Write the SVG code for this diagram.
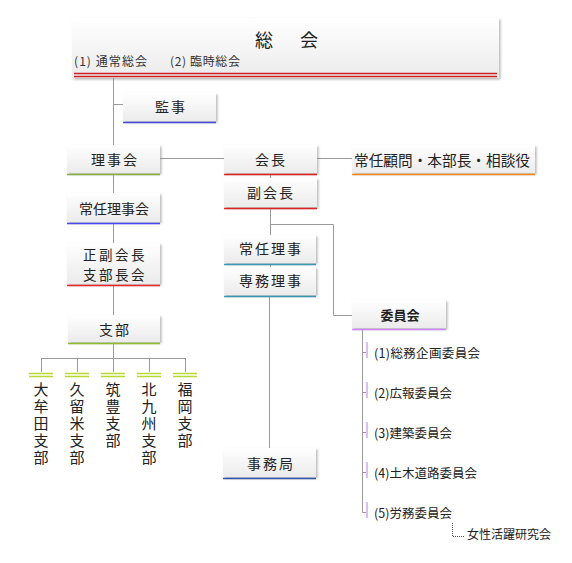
<svg xmlns="http://www.w3.org/2000/svg" width="572" height="563" viewBox="0 0 572 563">
<defs>
<linearGradient id="g" x1="0" y1="0" x2="0" y2="1">
<stop offset="0" stop-color="#ffffff"/>
<stop offset="1" stop-color="#ebebeb"/>
</linearGradient>
<filter id="sh" x="-5%" y="-10%" width="115%" height="130%">
<feDropShadow dx="1.5" dy="1.5" stdDeviation="0.8" flood-color="#888" flood-opacity="0.6"/>
</filter>
</defs>
<style>
.box{fill:url(#g);filter:url(#sh)}
.lbl{font-family:"Noto Sans CJK JP","Noto Sans",sans-serif;font-size:14px;fill:#222;text-anchor:middle;dominant-baseline:central;letter-spacing:2px}
.sm{font-family:"Noto Sans CJK JP","Noto Sans",sans-serif;font-size:12px;fill:#333}
.it{font-family:"Noto Sans CJK JP","Noto Sans",sans-serif;font-size:12.5px;fill:#222;dominant-baseline:central}
.vt{font-family:"Noto Sans CJK JP","Noto Sans",sans-serif;font-size:15px;fill:#222;writing-mode:vertical-rl;text-orientation:upright;letter-spacing:2px}
.c{stroke:#9a9a9a;stroke-width:1;fill:none}
.u{stroke-width:1.5}
</style>
<rect width="572" height="563" fill="#ffffff"/>

<g id="connectors">
<path class="c" d="M113.5 78V145M113.5 104.5H123M160 158.5H224M317 158.5H352M113.5 175V193M113.5 224V243M113.5 286V315M113.5 344V358.5M41.5 358.5H185.5M41.5 358V372M77.5 358V372M113.5 358V372M149.5 358V372M185.5 358V372M270.5 175V178M270.5 209V235M270.5 224.5H333.5V315.5H352M270.5 265V267M269.5 297V448"/>
<path class="c" d="M362.5 330V512.5H366M362.5 352.5H366M362.5 392.5H366M362.5 432.5H366M362.5 472.5H366"/>
<path d="M452.5 523V536.5H464" stroke="#555" stroke-width="1" stroke-dasharray="1 1" fill="none"/>
<g stroke="#d5a8f0" stroke-width="1.5">
<path d="M367 342V358M367 382V398M367 422V438M367 462V478M367 502V518"/>
</g>
<g stroke="#b8d832" stroke-width="1.5">
<path d="M29 373.5H53M65 373.5H89M101 373.5H125M137 373.5H161M173 373.5H197"/>
<path d="M29 376.5H53M65 376.5H89M101 376.5H125M137 376.5H161M173 376.5H197"/>
</g>
</g>

<g id="soukai">
<rect class="box" x="72" y="18" width="427" height="60"/>
<line x1="74" y1="73.5" x2="497" y2="73.5" stroke="#cc2020" stroke-width="1.3"/>
<line x1="74" y1="76.5" x2="497" y2="76.5" stroke="#cc2020" stroke-width="1.3"/>
<text x="255 300" y="39" style="font-family:'Noto Sans CJK JP',sans-serif;font-size:18px;fill:#222;dominant-baseline:central">総会</text>
<text class="sm" x="74" y="66" textLength="73" lengthAdjust="spacing">(1) 通常総会</text>
<text class="sm" x="170" y="66" textLength="70" lengthAdjust="spacing">(2) 臨時総会</text>
</g>

<g id="kanji">
<rect class="box" x="123" y="93" width="93" height="28"/>
<line class="u" x1="123" y1="122.5" x2="216" y2="122.5" stroke="#4a4ad8"/>
<text class="lbl" x="171" y="106">監事</text>
</g>

<g id="rijikai">
<rect class="box" x="67" y="145" width="93" height="28"/>
<line class="u" x1="67" y1="174.5" x2="160" y2="174.5" stroke="#88b040"/>
<text class="lbl" x="115" y="159">理事会</text>
</g>

<g id="jonin-rijikai">
<rect class="box" x="67" y="193" width="93" height="29"/>
<line class="u" x1="67" y1="223.5" x2="160" y2="223.5" stroke="#4a4aee"/>
<text class="lbl" x="114" y="208" style="letter-spacing:0">常任理事会</text>
</g>

<g id="seifuku">
<rect class="box" x="67" y="243" width="93" height="41"/>
<line class="u" x1="67" y1="285.5" x2="160" y2="285.5" stroke="#ee2828"/>
<text class="lbl" style="font-size:13.5px;letter-spacing:2.5px"><tspan x="115" y="253.5">正副会長</tspan><tspan x="115" y="274">支部長会</tspan></text>
</g>

<g id="shibu">
<rect class="box" x="68" y="315" width="92" height="27"/>
<line class="u" x1="68" y1="343.5" x2="160" y2="343.5" stroke="#8ebe30"/>
<text class="lbl" x="115" y="329">支部</text>
</g>

<g id="branches">
<text class="vt" x="41" y="382">大牟田支部</text>
<text class="vt" x="77" y="382">久留米支部</text>
<text class="vt" x="113" y="382">筑豊支部</text>
<text class="vt" x="149" y="382">北九州支部</text>
<text class="vt" x="185" y="382">福岡支部</text>
</g>

<g id="kaicho">
<rect class="box" x="224" y="145" width="93" height="28"/>
<line class="u" x1="224" y1="174.5" x2="317" y2="174.5" stroke="#dd2222"/>
<text class="lbl" x="271" y="159">会長</text>
</g>

<g id="fukukaicho">
<rect class="box" x="224" y="178" width="93" height="29"/>
<line class="u" x1="224" y1="208.5" x2="317" y2="208.5" stroke="#dd2222"/>
<text class="lbl" x="271" y="192">副会長</text>
</g>

<g id="jonin-riji">
<rect class="box" x="224" y="235" width="92" height="28"/>
<line class="u" x1="224" y1="264.5" x2="316" y2="264.5" stroke="#3a98b0"/>
<text class="lbl" x="271" y="248">常任理事</text>
</g>

<g id="senmu-riji">
<rect class="box" x="224" y="267" width="92" height="28"/>
<line class="u" x1="224" y1="296.5" x2="316" y2="296.5" stroke="#3a98b0"/>
<text class="lbl" x="271" y="280">専務理事</text>
</g>

<g id="jimukyoku">
<rect class="box" x="223" y="448" width="93" height="29"/>
<line class="u" x1="223" y1="478.5" x2="316" y2="478.5" stroke="#3355aa"/>
<text class="lbl" x="271" y="463">事務局</text>
</g>

<g id="komon">
<rect class="box" x="352" y="145" width="183" height="28"/>
<line class="u" x1="352" y1="174.5" x2="535" y2="174.5" stroke="#ee8a20"/>
<text x="354" y="159" textLength="176" lengthAdjust="spacingAndGlyphs" style="font-family:'Noto Sans CJK JP',sans-serif;font-size:15px;fill:#222;dominant-baseline:central">常任顧問・本部長・相談役</text>
</g>

<g id="iinkai">
<rect class="box" x="352" y="300" width="94" height="28"/>
<line class="u" x1="352" y1="329.5" x2="446" y2="329.5" stroke="#cc88ff"/>
<text class="lbl" x="400" y="314" style="font-size:13px;letter-spacing:0;font-weight:bold">委員会</text>
</g>

<g id="committees">
<text class="it" x="374" y="352" textLength="106" lengthAdjust="spacing">(1)総務企画委員会</text>
<text class="it" x="374" y="392">(2)広報委員会</text>
<text class="it" x="374" y="432">(3)建築委員会</text>
<text class="it" x="374" y="472">(4)土木道路委員会</text>
<text class="it" x="374" y="512">(5)労務委員会</text>
<text class="it" x="467" y="533" style="font-size:12px">女性活躍研究会</text>
</g>
</svg>
